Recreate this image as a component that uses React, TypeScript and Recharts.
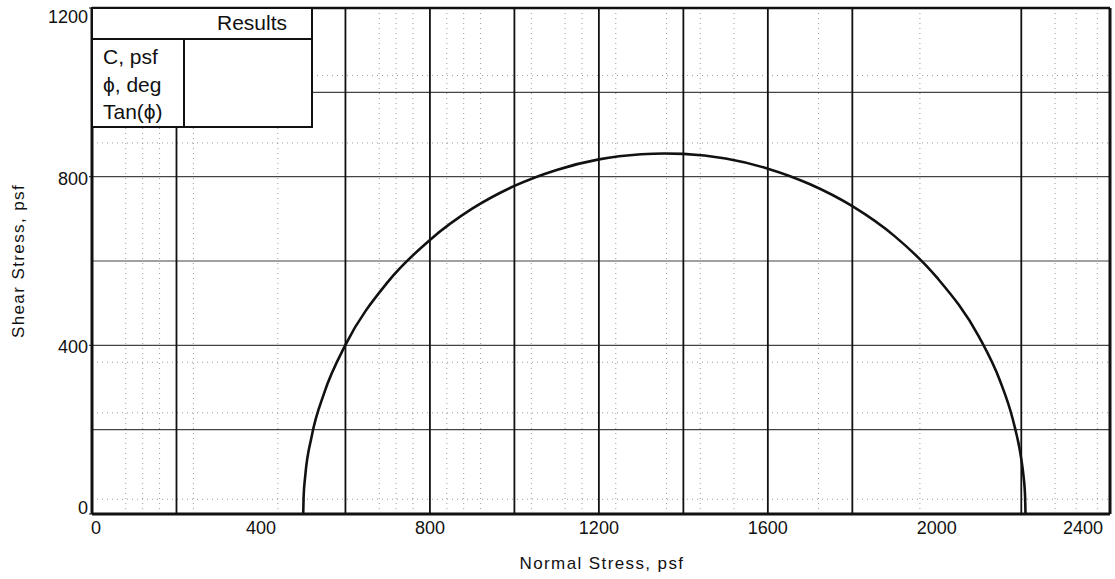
import React from 'react';
import { LineChart, Line, XAxis, YAxis, ReferenceLine, Label } from 'recharts';

// Mohr circle (normal stress, shear stress), psf
const NORMAL = [500, 501, 505, 520, 550, 600, 700, 800, 900, 1000, 1100, 1200, 1300, 1355, 1400, 1500, 1600, 1700, 1800, 1900, 2000, 2100, 2150, 2180, 2200, 2205, 2209, 2210];
const SHEAR = [0, 41, 92, 184, 288, 401, 550, 650, 724, 778, 816, 841, 853, 855, 854, 843, 819, 782, 730, 659, 561, 420, 315, 224, 130, 92, 41, 0];

const X_TICKS = [0, 400, 800, 1200, 1600, 2000, 2400];
const Y_TICKS = [0, 400, 800, 1200];
const X_MAX = 2410;
const Y_MAX = 1200;

// solid grid lines that show in the print
const GRID_X = [200, 600, 800, 1000, 1200, 1400, 1600, 1800, 2200];
const GRID_Y = [200, 400, 600, 800, 1000];
// faint dotted remnants of the minor grid
const DOT_X = [80, 120, 160, 240, 440, 680, 720, 760, 840, 880, 920, 1040, 1120, 1160, 1240, 1360, 1440, 1520, 1720, 1960, 2280, 2330, 2380];
const DOT_Y = [35, 240, 360, 880, 1040];

const RESULT_ROWS = ['C, psf', 'ϕ, deg', 'Tan(ϕ)'];

const data = NORMAL.map((n, i) => ({ normal: n, shear: SHEAR[i] }));

const FONT = '"Liberation Sans", Arial, sans-serif';

function XTick({ x, y, payload }: any) {
  const v = payload.value;
  const anchor = v === 0 ? 'start' : v === 2400 ? 'end' : 'middle';
  const dx = v === 0 ? -1 : v === 2400 ? 4 : 0;
  return (
    <text x={x + dx} y={y + 12} textAnchor={anchor} fontSize={18} fontFamily={FONT} fill="#111">
      {v}
    </text>
  );
}

function YTick({ y, payload }: any) {
  const v = payload.value;
  const dy = v === 1200 ? 14 : v === 0 ? 0 : 8;
  return (
    <text x={88} y={y + dy} textAnchor="end" fontSize={18} fontFamily={FONT} fill="#111">
      {v}
    </text>
  );
}

function ResultsTable() {
  const cell: React.CSSProperties = { fontFamily: FONT, fontSize: 21, color: '#111' };
  return (
    <div
      style={{
        position: 'absolute',
        left: 91,
        top: 7,
        width: 218,
        height: 117,
        border: '2px solid #111',
        background: '#fff',
      }}
    >
      <div style={{ height: 29, borderBottom: '2px solid #111', position: 'relative' }}>
        <span style={{ ...cell, position: 'absolute', left: 124, top: 2 }}>Results</span>
      </div>
      <div style={{ display: 'flex', height: 86 }}>
        <div style={{ width: 80, borderRight: '2px solid #111', paddingLeft: 10, paddingTop: 3 }}>
          {RESULT_ROWS.map((r) => (
            <div key={r} style={{ ...cell, height: 27.5, lineHeight: '27px', whiteSpace: 'nowrap' }}>
              {r}
            </div>
          ))}
        </div>
        <div style={{ flex: 1 }} />
      </div>
    </div>
  );
}

export default function App() {
  return (
    <div style={{ position: 'relative', width: 1115, height: 579, background: '#fff' }}>
      <style>{'body{margin:0;background:#fff}'}</style>
      <LineChart width={1115} height={579} data={data} margin={{ top: 8, right: 5, left: 0, bottom: 0 }}>
        <XAxis
          dataKey="normal"
          type="number"
          domain={[0, X_MAX]}
          ticks={X_TICKS}
          tick={<XTick />}
          tickLine={false}
          axisLine={{ stroke: '#111', strokeWidth: 3 }}
          height={65}
          allowDataOverflow
        >
          <Label
            content={() => (
              <text x={602} y={569} textAnchor="middle" fontSize={17} letterSpacing={1.4} fontFamily={FONT} fill="#111">
                Normal Stress, psf
              </text>
            )}
          />
        </XAxis>
        <YAxis
          type="number"
          domain={[0, Y_MAX]}
          ticks={Y_TICKS}
          tick={<YTick />}
          tickSize={3}
          tickLine={{ stroke: '#111' }}
          axisLine={{ stroke: '#111', strokeWidth: 3 }}
          width={92}
          allowDataOverflow
        >
          <Label
            content={() => (
              <text
                x={24}
                y={261}
                transform="rotate(-90 24 261)"
                textAnchor="middle"
                fontSize={17}
                letterSpacing={1.4}
                fontFamily={FONT}
                fill="#111"
              >
                Shear Stress, psf
              </text>
            )}
          />
        </YAxis>

        {DOT_X.map((v) => (
          <ReferenceLine key={'dx' + v} x={v} stroke="#999" strokeDasharray="1 4" />
        ))}
        {DOT_Y.map((v) => (
          <ReferenceLine key={'dy' + v} y={v} stroke="#999" strokeDasharray="1 4" />
        ))}
        {GRID_Y.map((v) => (
          <ReferenceLine key={'gy' + v} y={v} stroke="#444" strokeWidth={1.2} />
        ))}
        {GRID_X.map((v) => (
          <ReferenceLine key={'gx' + v} x={v} stroke="#111" strokeWidth={1.8} />
        ))}
        <ReferenceLine y={Y_MAX} stroke="#111" strokeWidth={2.5} />
        <ReferenceLine x={X_MAX} stroke="#111" strokeWidth={3} />

        <Line
          type="monotone"
          dataKey="shear"
          stroke="#111"
          strokeWidth={2.6}
          dot={false}
          isAnimationActive={false}
        />
      </LineChart>
      <ResultsTable />
    </div>
  );
}
